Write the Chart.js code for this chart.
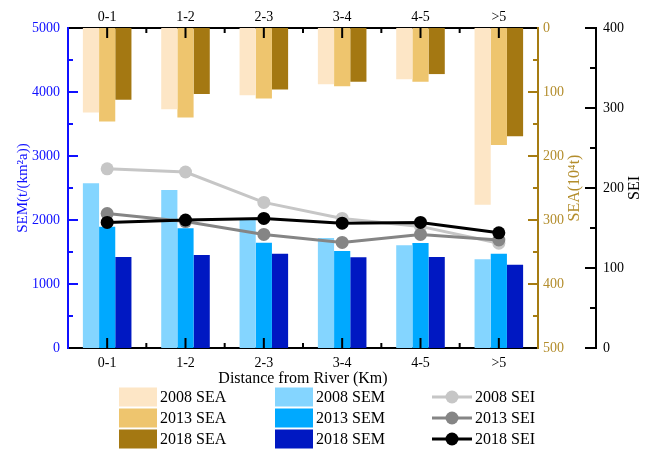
<!DOCTYPE html>
<html>
<head>
<meta charset="utf-8">
<script src="https://cdn.jsdelivr.net/npm/chart.js@4"></script>
<style>
  html, body { margin: 0; padding: 0; background: #fff; }
  #wrap { width: 652px; height: 451px; }
</style>
</head>
<body>
<div id="wrap"><canvas id="myChart" width="652" height="451"></canvas></div>
<script>
const categories = ["0-1", "1-2", "2-3", "3-4", "4-5", ">5"];
const years = ["2008", "2013", "2018"];

// SEA (10^4 t), hangs from the top on the reversed axis
const sea2008 = [132, 127, 105, 88, 80, 276];
const sea2013 = [146, 140, 110, 91, 84, 183];
const sea2018 = [112, 103, 96, 84, 72, 169];

// SEM (t/(km2 a))
const sem2008 = [2573, 2469, 2010, 1719, 1604, 1385];
const sem2013 = [1896, 1870, 1646, 1516, 1640, 1474];
const sem2018 = [1422, 1453, 1474, 1417, 1422, 1302];

// SEI
const sei2008 = [224, 220, 182, 162, 152, 131];
const sei2013 = [168, 158, 142, 132, 142, 135];
const sei2018 = [157, 160, 162, 156, 157, 144];

const semTicks = [0, 1000, 2000, 3000, 4000, 5000];
const seaTicks = [0, 100, 200, 300, 400, 500];
const seiTicks = [0, 100, 200, 300, 400];

const FONT = '"Liberation Serif", "Times New Roman", serif';
const BLUE = "#1010ff";
const GOLD = "#a67c12";
const GOLD_TEXT = "#b38d2c";

const seaColors = ["#FDE6C6", "#EEC56E", "#A47812"];
const semColors = ["#84D5FF", "#00A9FF", "#0018C2"];
const seiColors = ["#C6C6C6", "#858585", "#000000"];

const seaData = [sea2008, sea2013, sea2018];
const semData = [sem2008, sem2013, sem2018];
const seiData = [sei2008, sei2013, sei2018];

const lineSets = years.map((y, i) => ({
  type: "line",
  label: `${y} SEI`,
  data: seiData[i],
  yAxisID: "ySEI",
  borderColor: seiColors[i],
  backgroundColor: seiColors[i],
  borderWidth: 3,
  pointRadius: 6.5,
  pointBorderWidth: 0,
  pointBackgroundColor: seiColors[i],
  tension: 0,
  order: 3 - i,
  legendCol: 2, legendRow: i,
}));

const barSets = [];
years.forEach((y, i) => {
  barSets.push({
    type: "bar",
    label: `${y} SEA`,
    data: seaData[i],
    yAxisID: "ySEA",
    stack: y,
    backgroundColor: seaColors[i],
    order: 10,
    legendCol: 0, legendRow: i,
  });
  barSets.push({
    type: "bar",
    label: `${y} SEM`,
    data: semData[i],
    yAxisID: "y",
    stack: y,
    backgroundColor: semColors[i],
    order: 10,
    legendCol: 1, legendRow: i,
  });
});

// inward tick marks like the original figure
function drawInnerTicks(chart) {
  const ctx = chart.ctx;
  const area = chart.chartArea;
  const seg = (x1, y1, x2, y2) => { ctx.beginPath(); ctx.moveTo(x1, y1); ctx.lineTo(x2, y2); ctx.stroke(); };
  ctx.save();
  ctx.lineWidth = 2;

  ctx.strokeStyle = "#000";
  const xs = chart.scales.x;
  for (let i = 0; i < categories.length; i++) {
    const px = xs.getPixelForValue(i);
    seg(px, area.bottom, px, area.bottom - 10);
    seg(px, area.top, px, area.top + 10);
    if (i > 0) {
      const pb = (xs.getPixelForValue(i - 1) + px) / 2;
      seg(pb, area.bottom, pb, area.bottom - 5);
      seg(pb, area.top, pb, area.top + 5);
    }
  }

  const vTicks = (scale, x0, dir, major, minor, max, color, ends, lenMaj, lenMin) => {
    ctx.strokeStyle = color;
    for (let v = 0; v <= max; v += minor) {
      if (!ends && (v === 0 || v === max)) continue;
      const py = scale.getPixelForValue(v);
      const len = v % major === 0 ? lenMaj : lenMin;
      seg(x0, py, x0 + dir * len, py);
    }
  };
  vTicks(chart.scales.y, area.left, 1, 1000, 500, 5000, BLUE, false, 10, 5);
  vTicks(chart.scales.ySEA, area.right, -1, 100, 50, 500, GOLD, false, 10, 5);
  vTicks(chart.scales.ySEI, chart.scales.ySEI.left, -1, 100, 50, 400, "#000", true, 11, 6);
  ctx.restore();
}

// right-hand titles read bottom-to-top in the original
function drawRightTitles(chart) {
  const ctx = chart.ctx;
  const items = [
    { scale: chart.scales.ySEA, text: "SEA(10⁴t)", color: GOLD_TEXT, inset: 21 },
    { scale: chart.scales.ySEI, text: "SEI", color: "#000", inset: 17 },
  ];
  ctx.save();
  ctx.font = `16px ${FONT}`;
  ctx.textAlign = "center";
  ctx.textBaseline = "middle";
  items.forEach(({ scale, text, color, inset }) => {
    ctx.save();
    ctx.translate(scale.right - inset, (scale.top + scale.bottom) / 2);
    ctx.rotate(-Math.PI / 2);
    ctx.fillStyle = color;
    ctx.fillText(text, 0, 0);
    ctx.restore();
  });
  ctx.restore();
}

// 3 x 3 legend below the axis title
function drawGridLegend(chart) {
  const ctx = chart.ctx;
  const colX = [119, 275, 432];
  const rowY = [397, 418, 439];
  ctx.save();
  ctx.font = `16px ${FONT}`;
  ctx.textBaseline = "middle";
  chart.data.datasets.forEach(ds => {
    const x = colX[ds.legendCol];
    const y = rowY[ds.legendRow];
    if (ds.type === "bar") {
      ctx.fillStyle = ds.backgroundColor;
      ctx.fillRect(x, y - 9.5, 38, 19);
      ctx.fillStyle = "#000";
      ctx.fillText(ds.label, x + 41, y + 1);
    } else {
      ctx.strokeStyle = ds.borderColor;
      ctx.lineWidth = 3;
      ctx.beginPath(); ctx.moveTo(x, y); ctx.lineTo(x + 40, y); ctx.stroke();
      ctx.fillStyle = ds.borderColor;
      ctx.beginPath(); ctx.arc(x + 20, y, 6.5, 0, Math.PI * 2); ctx.fill();
      ctx.fillStyle = "#000";
      ctx.fillText(ds.label, x + 43, y + 1);
    }
  });
  ctx.restore();
}

const extras = {
  id: "extras",
  afterDraw(chart) {
    drawInnerTicks(chart);
    drawRightTitles(chart);
    drawGridLegend(chart);
  }
};

const fixW = (w) => (s) => { s.width = w; };
const fixH = (h) => (s) => { s.height = h; };
const plain = (v) => String(v);

new Chart(document.getElementById("myChart"), {
  data: { labels: categories, datasets: [...lineSets, ...barSets] },
  options: {
    responsive: false,
    animation: false,
    layout: { padding: { left: 0, right: 0, top: 0, bottom: 63 } },
    datasets: { bar: { categoryPercentage: 0.62, barPercentage: 1.0 } },
    plugins: { legend: { display: false }, tooltip: { enabled: false } },
    scales: {
      x: {
        type: "category",
        position: "bottom",
        offset: true,
        z: 1,
        grid: { display: false, drawTicks: false },
        border: { display: true, color: "#000", width: 2 },
        ticks: { color: "#000", font: { family: FONT, size: 14 }, padding: 7, maxRotation: 0 },
        title: { display: true, text: "Distance from River (Km)", color: "#000", font: { family: FONT, size: 16 }, padding: 0 },
        afterFit: fixH(40),
      },
      xTop: {
        type: "category",
        position: "top",
        labels: categories,
        offset: true,
        z: 1,
        grid: { display: false, drawTicks: false },
        border: { display: true, color: "#000", width: 2 },
        ticks: { color: "#000", font: { family: FONT, size: 14 }, padding: 2, maxRotation: 0 },
        afterFit: fixH(28),
      },
      y: {
        position: "left",
        min: 0, max: 5000,
        stacked: false,
        z: 1,
        afterBuildTicks: (s) => { s.ticks = semTicks.map(v => ({ value: v })); },
        grid: { display: false, drawTicks: false },
        border: { display: true, color: BLUE, width: 2 },
        ticks: { color: BLUE, font: { family: FONT, size: 14 }, padding: 8, callback: plain },
        title: { display: true, text: "SEM(t/(km²a))", color: BLUE, font: { family: FONT, size: 15 }, padding: { top: 14, bottom: 0 } },
        afterFit: fixW(68),
      },
      ySEA: {
        position: "right",
        reverse: true,
        min: 0, max: 500,
        stacked: false,
        z: 1,
        afterBuildTicks: (s) => { s.ticks = seaTicks.map(v => ({ value: v })); },
        grid: { display: false, drawTicks: false },
        border: { display: true, color: GOLD, width: 2 },
        ticks: { color: GOLD_TEXT, font: { family: FONT, size: 14 }, padding: 5, callback: plain },
        afterFit: fixW(58),
      },
      ySEI: {
        position: "right",
        min: 0, max: 400,
        stacked: false,
        z: 1,
        afterBuildTicks: (s) => { s.ticks = seiTicks.map(v => ({ value: v })); },
        grid: { display: false, drawTicks: false },
        border: { display: true, color: "#000", width: 2 },
        ticks: { color: "#000", font: { family: FONT, size: 14 }, padding: 7, callback: plain },
        afterFit: fixW(56),
      },
    },
  },
  plugins: [extras],
});
</script>
</body>
</html>
